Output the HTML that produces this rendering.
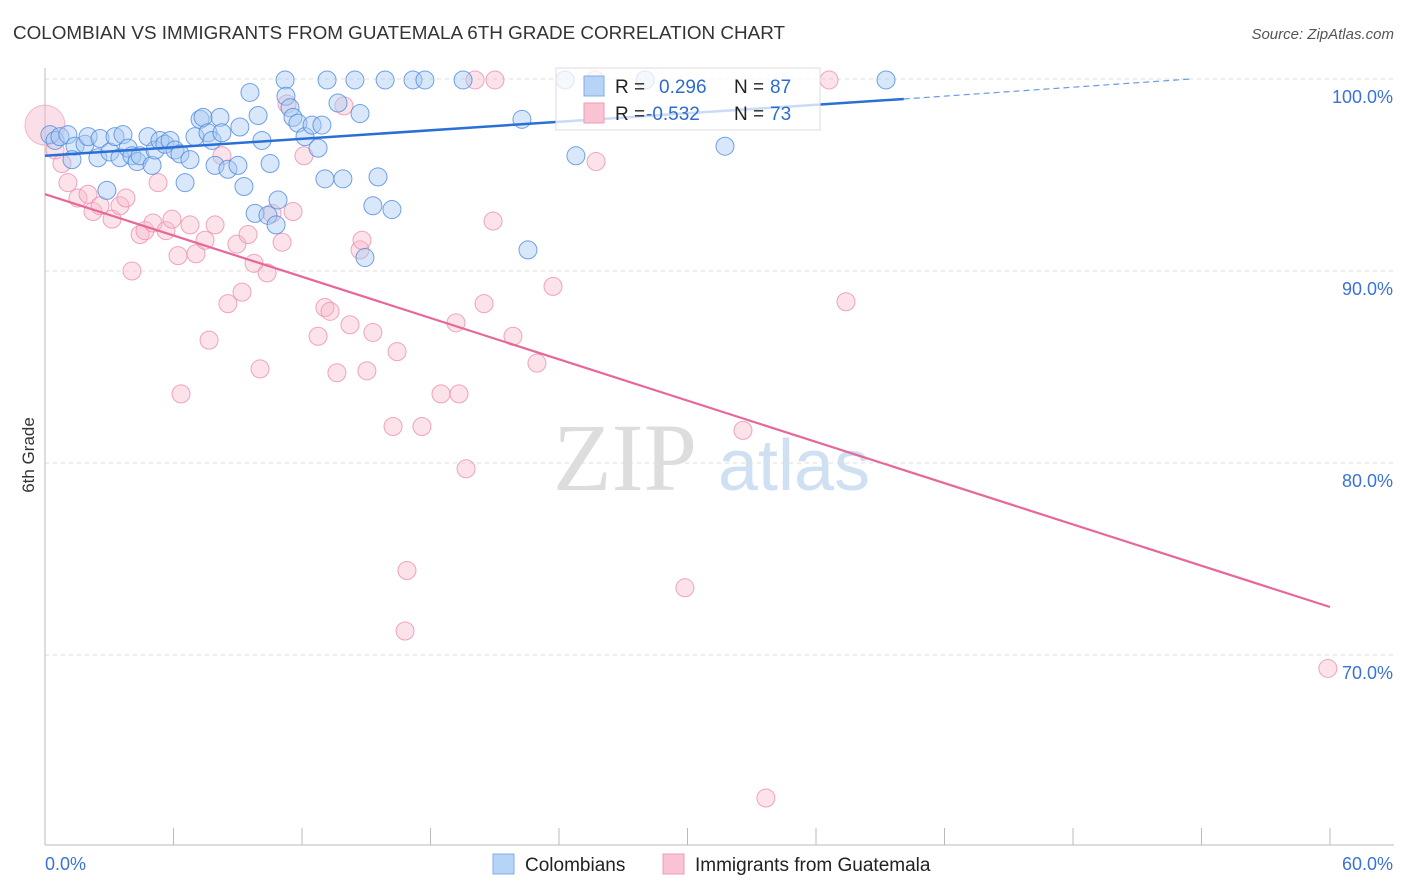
<!DOCTYPE html>
<html><head><meta charset="utf-8">
<style>
html,body{margin:0;padding:0;background:#fff;}
body{width:1406px;height:892px;overflow:hidden;font-family:"Liberation Sans",sans-serif;}
</style></head>
<body>
<svg id="chart" width="1406" height="892" xmlns="http://www.w3.org/2000/svg" style="position:absolute;left:0;top:0">
<text x="13" y="39" font-size="18" fill="#333" font-family="Liberation Sans, sans-serif" textLength="772" lengthAdjust="spacingAndGlyphs">COLOMBIAN VS IMMIGRANTS FROM GUATEMALA 6TH GRADE CORRELATION CHART</text>
<text x="1394" y="39" font-size="15" fill="#555" font-style="italic" text-anchor="end">Source: ZipAtlas.com</text>
<text x="0" y="0" font-size="17" fill="#333" transform="translate(34,455) rotate(-90)" text-anchor="middle">6th Grade</text>
<g>
<text x="553" y="490" font-size="96" fill="#ddd" font-family="Liberation Serif, serif">ZIP</text>
<text x="718" y="490" font-size="72" fill="#cfe0f3" font-family="Liberation Sans, sans-serif">atlas</text>
</g>
<g id="grid"></g>
<g id="axes"></g>
<g id="pts"></g>
<g id="trends"></g>
<g>
<rect x="556" y="68" width="264" height="62" fill="#fff" fill-opacity="0.75" stroke="#ddd"/>
<rect x="584" y="76" width="20" height="20" fill="#b7d3f6" stroke="#7faee8"/>
<text x="615" y="93" font-size="19" fill="#222">R =</text>
<text x="659" y="93" font-size="19" fill="#2d6ccf">0.296</text>
<text x="734" y="93" font-size="19" fill="#222">N =</text>
<text x="770" y="93" font-size="19" fill="#2d6ccf">87</text>
<rect x="584" y="103" width="20" height="20" fill="#f9c3d3" stroke="#ef9bb5"/>
<text x="615" y="120" font-size="19" fill="#222">R =</text>
<text x="646" y="120" font-size="19" fill="#2d6ccf">-0.532</text>
<text x="734" y="120" font-size="19" fill="#222">N =</text>
<text x="770" y="120" font-size="19" fill="#2d6ccf">73</text>
</g>
<g>
<rect x="493" y="854" width="21" height="20" fill="#b7d3f6" stroke="#7faee8"/>
<text x="525" y="871" font-size="19" fill="#222">Colombians</text>
<rect x="663" y="854" width="21" height="20" fill="#f9c3d3" stroke="#ef9bb5"/>
<text x="695" y="871" font-size="19" fill="#222">Immigrants from Guatemala</text>
</g>
</svg>
<script>
const yTicks=[100,90,80,70];
const yTickLabels=["100.0%","90.0%","80.0%","70.0%"];
const xTicks=[0,6,12,18,24,30,36,42,48,54,60];
const xEndLabels=["0.0%","60.0%"];
const blueX=[0.23,0.47,0.70,1.07,1.40,1.26,1.87,2.01,2.47,2.57,2.89,3.03,3.27,3.50,3.64,3.88,4.06,4.30,4.44,4.81,5.00,5.14,5.37,5.60,5.84,6.07,6.30,6.54,6.77,7.00,7.24,7.38,7.61,7.80,7.94,8.17,8.26,8.54,9.01,9.10,9.29,9.57,9.81,9.95,10.13,10.41,10.51,10.79,10.88,11.21,11.25,11.44,11.58,11.81,12.14,12.47,12.75,12.93,13.07,13.17,13.68,13.91,14.47,14.71,15.31,15.55,15.88,16.20,17.18,17.74,19.52,22.27,22.55,24.28,24.79,28.02,31.75,39.27,14.94];
const blueY=[97.1,96.8,97.0,97.1,96.5,95.8,96.6,97.0,95.9,96.9,94.2,96.2,97.0,95.9,97.1,96.4,96.0,95.7,96.0,97.0,95.5,96.3,96.8,96.6,96.8,96.3,96.1,94.6,95.8,97.0,97.9,98.0,97.2,96.8,95.5,98.0,97.2,95.3,95.5,97.5,94.4,99.3,93.0,98.1,96.8,92.9,95.6,92.4,93.7,99.95,99.1,98.5,98.0,97.7,97.0,97.6,96.4,97.6,94.8,99.95,98.75,94.8,99.95,98.2,93.4,94.9,99.95,93.2,99.95,99.95,99.95,97.9,91.1,99.95,96.0,99.95,96.5,99.95,90.7];
const pinkX=[0.47,0.79,1.07,1.54,2.01,2.24,2.57,3.13,3.50,3.78,4.06,4.44,4.67,5.04,5.28,5.65,5.93,6.21,6.35,6.77,7.05,7.47,7.66,7.94,8.26,8.54,8.96,9.20,9.48,9.76,10.04,10.37,10.60,11.07,11.30,11.58,12.09,12.75,13.07,13.31,13.63,13.96,14.24,14.71,14.80,15.03,15.31,16.25,16.44,16.90,16.81,17.60,18.49,19.19,19.33,19.66,20.08,20.50,20.92,21.01,21.85,22.97,23.72,25.73,29.88,32.59,33.66,36.61,37.40,59.9,25.68];
const pinkY=[96.3,95.6,94.6,93.8,94.0,93.1,93.4,92.7,93.4,93.8,90.0,91.9,92.1,92.5,94.6,92.1,92.7,90.8,83.6,92.4,90.9,91.6,86.4,92.4,96.0,88.3,91.4,88.9,91.9,90.4,84.9,89.9,93.0,91.5,98.7,93.1,96.0,86.6,88.1,87.9,84.7,98.6,87.2,91.1,91.6,84.8,86.8,81.9,85.8,74.4,71.25,81.9,83.6,87.3,83.6,79.7,99.95,88.3,92.6,99.95,86.6,85.2,89.2,95.7,73.5,81.7,62.55,99.95,88.4,69.3,99.95];
const blueTrend=[[0,96.0],[40.1,98.96]];
const blueDash=[[40.1,98.96],[53.5,100.0]];
const pinkTrend=[[0,94.0],[60,72.5]];
const ns="http://www.w3.org/2000/svg";
const X=v=>45+v/60*1285;
const Y=v=>79+(100-v)*19.2;
function mk(tag,parent,attrs){const e=document.createElementNS(ns,tag);for(const k in attrs)e.setAttribute(k,attrs[k]);parent.appendChild(e);return e;}
const grid=document.getElementById('grid'),axes=document.getElementById('axes'),pts=document.getElementById('pts'),tr=document.getElementById('trends');
yTicks.forEach((t,i)=>{
 const l=mk('line',grid,{x1:45,x2:1394,y1:Y(t),y2:Y(t),stroke:'#ddd','stroke-dasharray':'4,4'});
 
 
 const tx=mk('text',axes,{x:1393,y:Y(t)+24,'font-size':18,fill:'#3a72d8','text-anchor':'end'});
 tx.textContent=yTickLabels[i];
 
 
});
const al=mk('line',axes,{x1:45,x2:1394,y1:845,y2:845,stroke:'#bbb'});


const yl=mk('line',axes,{x1:45,x2:45,y1:68,y2:845,stroke:'#bbb'});


xTicks.forEach(t=>{
 const l=mk('line',axes,{x1:X(t),x2:X(t),y1:828,y2:845,stroke:'#bbb'});
 
 
});
const t0=mk('text',axes,{x:45,y:870,'font-size':18,fill:'#3a72d8'});t0.textContent=xEndLabels[0];


const t1=mk('text',axes,{x:1393,y:870,'font-size':18,fill:'#3a72d8','text-anchor':'end'});t1.textContent=xEndLabels[1];


// big pink point at origin
const bp=mk('circle',pts,{cx:X(0),cy:Y(97.6),r:20,fill:'#f7b8cb','fill-opacity':0.45,stroke:'#ee8fae','stroke-opacity':0.6});


pinkX.forEach((x,i)=>{
 const c=mk('circle',pts,{cx:X(x),cy:Y(pinkY[i]),r:9,fill:'#f7b8cb','fill-opacity':0.4,stroke:'#ee8fae','stroke-opacity':0.8});
 
 
});
blueX.forEach((x,i)=>{
 const c=mk('circle',pts,{cx:X(x),cy:Y(blueY[i]),r:9,fill:'#a9c9f2','fill-opacity':0.45,stroke:'#4f8be0','stroke-opacity':0.8});
 
 
});
const b1=mk('line',tr,{x1:X(blueTrend[0][0]),y1:Y(blueTrend[0][1]),x2:X(blueTrend[1][0]),y2:Y(blueTrend[1][1]),stroke:'#2a6fd6','stroke-width':2.5});


const b2=mk('line',tr,{x1:X(blueDash[0][0]),y1:Y(blueDash[0][1]),x2:X(blueDash[1][0]),y2:Y(blueDash[1][1]),stroke:'#6a9be0','stroke-width':1.2,'stroke-dasharray':'6,4'});


const p1=mk('line',tr,{x1:X(pinkTrend[0][0]),y1:Y(pinkTrend[0][1]),x2:X(pinkTrend[1][0]),y2:Y(pinkTrend[1][1]),stroke:'#e8679a','stroke-width':2.2});


</script>
</body></html>
